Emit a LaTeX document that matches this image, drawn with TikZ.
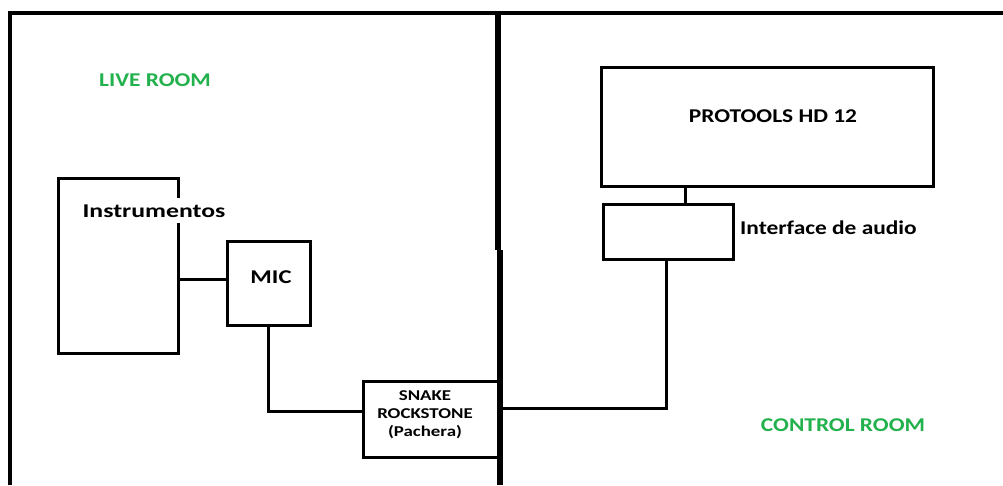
\documentclass[tikz,border=0pt]{standalone}
\usepackage{fontspec}
\setmainfont{Carlito}[FakeStretch=1.2]
\newfontfamily\widefont{Carlito}[FakeStretch=1.32]
\newfontfamily\micfont{Carlito}[FakeStretch=1.26]
\definecolor{roomgreen}{RGB}{34,177,76}
\tikzset{
  box/.style={draw=black, line width=3pt, rectangle, inner sep=0pt, outer sep=0pt},
  wire/.style={draw=black, line width=3pt},
  frame/.style={draw=black, line width=4pt},
  divider/.style={draw=black, line width=5.5pt},
  lbl/.style={font=\fontsize{19.5}{23}\selectfont\bfseries, text=black, inner sep=0pt},
  small/.style={font=\micfont\fontsize{15}{17.7}\selectfont\bfseries, text=black, inner sep=0pt, align=center},
  room/.style={font=\fontsize{19.5}{23}\selectfont\bfseries, text=roomgreen, inner sep=0pt}
}
\begin{document}
\begin{tikzpicture}[x=1pt, y=-1pt]
\useasboundingbox (0,0) rectangle (1003,485);
\fill[white] (0,0) rectangle (1003,485);

% frame
\draw[frame, line join=miter] (10,485) -- (10,13) -- (1003,13);
\coordinate (divA) at (498,13);
\coordinate (divB) at (498,250);
\coordinate (divC) at (500,250);
\coordinate (divD) at (500,485);

% boxes
\node[box, minimum width=120pt, minimum height=175pt] (instr) at (118,265.5) {};
\node[box, minimum width=83pt, minimum height=84pt] (mic) at (268.5,283) {};
\node[box, minimum width=135pt, minimum height=76pt] (snake) at (430.5,419) {};
\node[box, minimum width=332pt, minimum height=119pt] (protools) at (767,126.5) {};
\node[box, minimum width=130pt, minimum height=55pt] (iface) at (668,231.5) {};

% divider
\draw[divider] (divA) -- (divB);
\draw[divider] (divC) -- (divD);

% texts
\node[lbl, font=\widefont\fontsize{19.5}{23}\selectfont\bfseries, anchor=base, fill=white, inner ysep=6pt, inner xsep=1pt] (tinstr) at (154,217) {Instrumentos};
\node[lbl, font=\micfont\fontsize{19.5}{23}\selectfont\bfseries, anchor=base] (tmic) at (271,283) {MIC};
\node[small, anchor=base] (tsnake) at (425,436) {SNAKE\\ROCKSTONE\\(Pachera)};
\node[lbl, anchor=base] (tpro) at (773,122.7) {PROTOOLS HD 12};
\node[lbl, anchor=base west] (tiface) at (740,234) {Interface de audio};
\node[room, anchor=base] (tlive) at (155,86) {LIVE ROOM};
\node[room, anchor=base] (tcontrol) at (843,431) {CONTROL ROOM};

% connectors
\draw[wire] (instr.east |- 0,279) -- (mic.west |- 0,279);
\draw[wire] (mic.south) |- (snake.west |- 0,411);
\draw[wire] (divD |- 0,408) -| (iface.south -| 666,0);
\draw[wire] (protools.south -| 685,0) -- (iface.north -| 685,0);
\end{tikzpicture}
\end{document}
